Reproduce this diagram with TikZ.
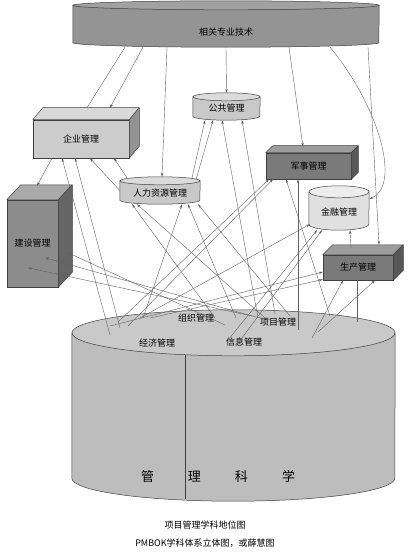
\documentclass[tikz,border=0pt]{standalone}
\usepackage{fontspec}
\setmainfont{Noto Sans CJK SC}
\usetikzlibrary{arrows.meta,backgrounds}

\definecolor{techgray}{gray}{0.58}
\definecolor{techtop}{gray}{0.63}
\definecolor{lightbox}{gray}{0.80}
\definecolor{drumgray}{gray}{0.79}
\definecolor{drumtop}{gray}{0.86}
\definecolor{palegray}{gray}{0.88}
\definecolor{midbox}{gray}{0.55}
\definecolor{darkbox}{gray}{0.48}
\definecolor{basegray}{gray}{0.74}
\definecolor{basetop}{gray}{0.79}
\definecolor{wire}{gray}{0.38}

\tikzset{
  lab/.style={font=\fontsize{9}{10}\selectfont, inner sep=1pt},
  shell/.style={draw=black!75, line width=0.5pt},
  arr/.style={draw=wire, line width=0.4pt, -{Stealth[length=4pt,width=2.4pt]}},
  bare/.style={draw=wire, line width=0.4pt},
}

% box with top and side faces
\newcommand{\cuboid}[8]{%
  \node[shell, lab, fill=#7, minimum width=#3pt, minimum height=#4pt, inner sep=0pt] (#1) at #2 {#8};
  \draw[shell, fill=#7!75!white, line join=round] (#1.north west) -- ++(#5,-#6) -- ([shift={(#5,-#6)}]#1.north east) -- (#1.north east) -- cycle;
  \draw[shell, fill=#7!72!black, line join=round] (#1.north east) -- ([shift={(#5,-#6)}]#1.north east) -- ([shift={(#5,-#6)}]#1.south east) -- (#1.south east) -- cycle;
}

% upright cylinder
\newcommand{\drum}[9][0]{%
  \node[minimum width=#4pt, minimum height=#5pt, inner sep=0pt] (#2) at #3 {};
  \begin{scope}[on background layer]
    \draw[shell, fill=#7] ([yshift=-#6pt]#2.north west) -- ([yshift=#6pt]#2.south west)
      arc[start angle=180, end angle=360, x radius=#4pt/2, y radius=#6pt] -- ([yshift=-#6pt]#2.north east) -- cycle;
    \draw[shell, fill=#8] ([yshift=-#6pt]#2.north) ellipse[x radius=#4pt/2, y radius=#6pt];
  \end{scope}
  \node[lab, yshift=-#1pt] (#2-t) at (#2) {#9};
}

\begin{document}
\begin{tikzpicture}[x=1pt, y=-1pt]
\begin{scope}[on background layer]
  \fill[white] (0,0) rectangle (417,556);
\end{scope}
\useasboundingbox (0,0) rectangle (417,556);

\drum[8]{tech}{(226,24)}{306}{46}{4.5}{techgray}{techtop}{相关专业技术}
\drum[1.5]{gg}{(226.5,106.5)}{67}{27}{4}{drumgray}{drumtop}{公共管理}
\drum[3]{rl}{(160,190.5)}{80}{27}{4}{drumgray}{drumtop}{人力资源管理}
\drum[4]{jr}{(339,208)}{60}{44}{6}{palegray}{palegray!60!white}{金融管理}
\drum{kx}{(233.5,405.5)}{323}{191}{23}{basegray}{basetop}{}

\cuboid{qy}{(81,139)}{96}{38}{10}{12}{lightbox}{企业管理}
\cuboid{js}{(32.5,243.5)}{51}{87}{14}{15}{midbox}{建设管理}
\cuboid{jsh}{(308.5,166)}{85}{26}{7}{7}{darkbox}{军事管理}
\cuboid{sc}{(358,267.5)}{70}{25}{10}{10}{darkbox}{生产管理}

\draw[shell, line width=0.4pt] (185,355) -- (185,499);

\node[lab] (zz) at (196,318) {组织管理};
\node[lab] (xm) at (278,322) {项目管理};
\node[lab] (jj) at (157,343) {经济管理};
\node[lab] (xx) at (244,342) {信息管理};
\node[font=\fontsize{13}{14}\selectfont] (glkx) at (218,477) {管\hspace{34pt}理\hspace{34pt}科\hspace{34pt}学};

\coordinate (k1) at (110,335);
\coordinate (k2) at (120,328);
\coordinate (k3) at (258,318);
\coordinate (k4) at (275,314);
\coordinate (k5) at (118,322);
\coordinate (k6) at (128,326);
\coordinate (k7) at (330,316);
\coordinate (k8) at (298,330);
\coordinate (k9) at (140,318);
\coordinate (k10) at (228,340);
\coordinate (k11) at (236,346);
\coordinate (k12) at (110,326);
\coordinate (k13) at (150,318);
\coordinate (k14) at (312,338);
\coordinate (k15) at (318,332);
\coordinate (k16) at (357,322);
\coordinate (k17) at (280,322);
\coordinate (k18) at (252,316);
\coordinate (k19) at (225,325);
\coordinate (k20) at (215,318);
\coordinate (k21) at (265,318);
\coordinate (k22) at (143,318);
\coordinate (k23) at (236,318);
\coordinate (k24) at (290,316);

\draw[bare] ([shift={(6,-12)}]qy.north) -- ([xshift=-101pt]tech.south);
\draw[arr] ([xshift=-83pt]tech.south) -- ([shift={(29,-12)}]qy.north);
\draw[arr] ([xshift=-59pt]tech.south) -- ([xshift=2pt]rl.north);
\draw[arr] (tech.south) -- (gg.north);
\draw[arr] ([xshift=63pt]tech.south) -- ([shift={(-5.5,-6)}]jsh.north);
\draw[arr] ([xshift=104pt]tech.south) .. controls (378,105) and (402,185) .. ([yshift=9pt]jr.east);
\draw[arr] ([xshift=142pt]tech.south) -- ([shift={(21,-10)}]sc.north);

\draw[arr] ([xshift=-29pt]qy.south) -- ([shift={(4.5,-14)}]js.north);
\draw[arr] (rl.west) -- ([xshift=9pt]qy.south);
\draw[arr] ([shift={(-33,1)}]rl.north) -- ([xshift=33pt]qy.south);
\draw[arr] (k1) -- ([xshift=-19pt]qy.south);
\draw[arr] (k2) -- ([xshift=-6pt]qy.south);

\draw[arr] ([shift={(32,1)}]rl.north) -- ([xshift=-21.5pt]gg.south);
\draw[arr] ([shift={(36,3)}]rl.north) -- ([xshift=-13.5pt]gg.south);
\draw[arr] (k3) -- ([xshift=-4.5pt]gg.south);
\draw[arr] (k4) -- ([xshift=15.5pt]gg.south);

\draw[arr] (k5) -- ([xshift=-39.5pt]jsh.south);
\draw[arr] (k6) -- ([xshift=-35.5pt]jsh.south);
\draw[arr] (k7) -- ([xshift=-22.5pt]jsh.south);
\draw[arr] (k8) -- ([xshift=-10.5pt]jsh.south);

\draw[arr] (k9) -- ([shift={(-29,-6)}]jr.south);
\draw[arr] (k10) -- ([xshift=-22pt]jr.south);
\draw[arr] (k11) -- ([xshift=-17pt]jr.south);
\draw[arr] ([shift={(-7,-7)}]sc.north) -- ([xshift=11pt]jr.south);

\draw[arr] (k12) -- ([yshift=-4.5pt]sc.west);
\draw[arr] (k13) -- ([yshift=-12pt]sc.west);
\draw[arr] (k14) -- ([xshift=-15pt]sc.south);
\draw[arr] (k15) -- ([xshift=17pt]sc.south);
\draw[bare] ([xshift=-1pt]sc.south) -- (k16);

\draw[arr] (k17) -- ([shift={(-4.5,68)}]js.north);
\draw[arr] (k18) -- ([shift={(12.5,58)}]js.north);
\draw[arr] (k19) -- ([shift={(35.5,53)}]js.north);

\draw[arr] (k20) -- ([xshift=-28pt]rl.south);
\draw[arr] (k21) -- ([xshift=-23pt]rl.south);
\draw[arr] (k22) -- ([xshift=22pt]rl.south);
\draw[arr] (k23) -- ([xshift=28pt]rl.south);
\draw[arr] (k24) -- ([xshift=38pt]rl.south);

\node[font=\fontsize{9}{10}\selectfont] (cap1) at (205,525) {项目管理学科地位图};
\node[font=\fontsize{9}{10}\selectfont] (cap2) at (205,543) {PMBOK学科体系立体图，或薛慧图};
\end{tikzpicture}
\end{document}
